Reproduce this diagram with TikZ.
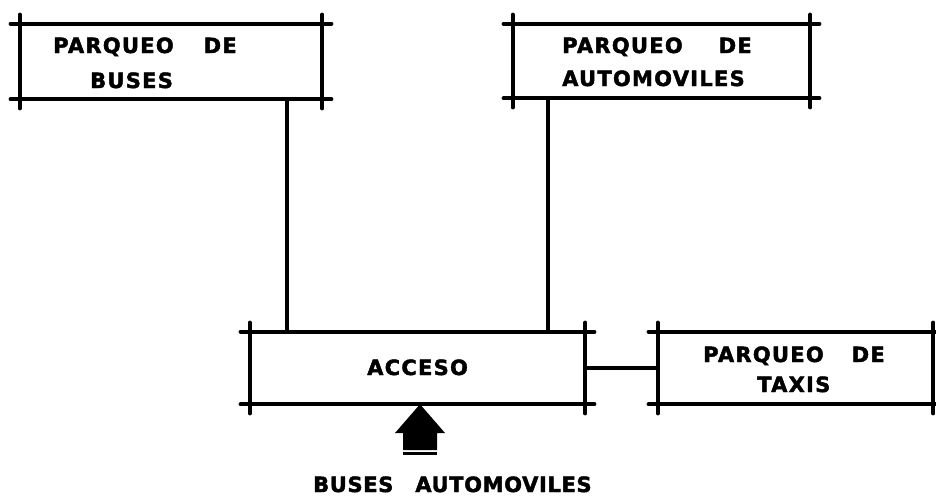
\documentclass[tikz,border=0pt]{standalone}
\usepackage{fontspec}
\newfontfamily\lab{DejaVu Sans}[LetterSpace=6,BoldFeatures={FakeBold=2}]
\newcommand\frameit[1]{%
  \draw[frame] ([xshift=-9pt]#1.north west) -- ([xshift=9pt]#1.north east);
  \draw[frame] ([xshift=-9pt]#1.south west) -- ([xshift=9pt]#1.south east);
  \draw[frame] ([yshift=9pt]#1.north west) -- ([yshift=-9pt]#1.south west);
  \draw[frame] ([yshift=9pt]#1.north east) -- ([yshift=-9pt]#1.south east);}
\begin{document}
\begin{tikzpicture}[x=1pt,y=-1pt,line cap=round,
  frame/.style={line width=4.5pt},
  conn/.style={line width=3.5pt},
  area/.style={rectangle,inner sep=0pt,draw=none},
  txt/.style={anchor=base west,inner sep=0pt,font=\lab\bfseries\fontsize{21}{24}\selectfont}]
\useasboundingbox (0,0) rectangle (936,496);
% areas
\node[area,minimum width=302pt,minimum height=75pt] (buses) at (171,61.5) {};
\node[area,minimum width=297pt,minimum height=74pt] (autos) at (661.5,61) {};
\node[area,minimum width=335pt,minimum height=72pt] (acceso) at (417.5,368) {};
\node[area,minimum width=275pt,minimum height=72pt] (taxis) at (795.5,368) {};
\frameit{buses}
\frameit{autos}
\frameit{acceso}
\frameit{taxis}
% texts
\node[txt] (t1a) at (53,53) {PARQUEO\hspace{30pt}DE};
\node[txt] (t1b) at (90,88) {BUSES};
\node[txt] (t2a) at (562,53) {PARQUEO\hspace{36pt}DE};
\node[txt] (t2b) at (562,86) {AUTOMOVILES};
\node[txt] (t3) at (367,375) {ACCESO};
\node[txt] (t4a) at (703,362) {PARQUEO\hspace{28pt}DE};
\node[txt] (t4b) at (757,392) {TAXIS};
\node[txt] (t5) at (313,492) {\addfontfeatures{LetterSpace=3}BUSES\hspace{22pt}AUTOMOVILES};
% connectors
\coordinate (c1) at (287,0);
\coordinate (c2) at (548,0);
\draw[conn] (buses.south -| c1) -- (acceso.north -| c1);
\draw[conn] (autos.south -| c2) -- (acceso.north -| c2);
\draw[conn] (acceso.east) -- (taxis.west);
% entry arrow
\coordinate (tip) at (acceso.south -| 420,0);
\fill (tip) -- (445,433) -- (437,433) -- (437,450) -- (403,450) -- (403,433) -- (395,433) -- cycle;
\fill (403,452) rectangle (437,455);
\end{tikzpicture}
\end{document}
